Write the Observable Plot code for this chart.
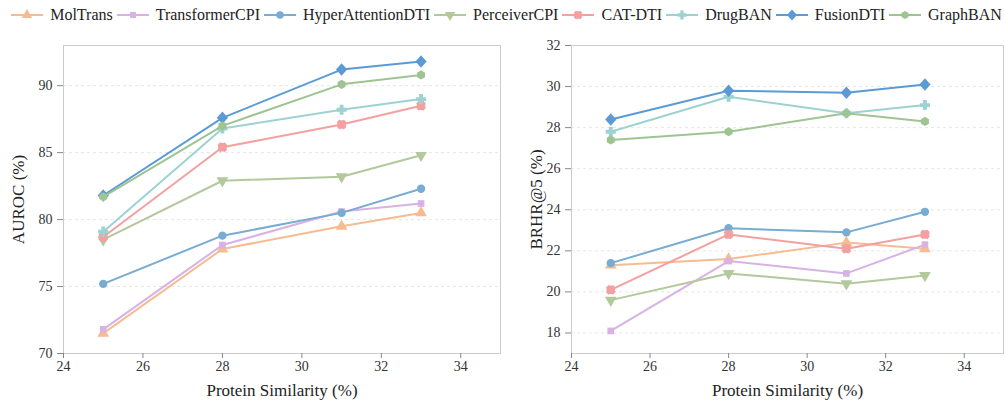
<!DOCTYPE html>
<html>
<head>
<meta charset="utf-8">
<script src="https://cdn.jsdelivr.net/npm/d3@7"></script>
<script src="https://cdn.jsdelivr.net/npm/@observablehq/plot@0.6"></script>
<style>
  body { margin: 0; background: #fff; font-family: "Liberation Serif", "Times New Roman", Times, "DejaVu Serif", serif; }
  #wrap { width: 1005px; height: 404px; position: relative; overflow: hidden; }
  #legend { height: 30px; display: flex; justify-content: center; align-items: center; font-size: 16px; color: #222; padding-left: 12px; box-sizing: border-box; white-space: nowrap; }
  .item { display: flex; align-items: center; margin-right: 4px; white-space: nowrap; flex: none; }
  .item svg { margin-right: 7px; }
  #plots { display: flex; }
</style>
</head>
<body>
<div id="wrap">
  <div id="legend"></div>
  <div id="plots"></div>
</div>
<script>
// ---- data ----
const similarity = [25, 28, 31, 33];
const methods = ["MolTrans", "TransformerCPI", "HyperAttentionDTI", "PerceiverCPI", "CAT-DTI", "DrugBAN", "FusionDTI", "GraphBAN"];
const colors = ["#f7bb92", "#d8b2e4", "#78acd3", "#b2c99b", "#f2a0a0", "#9dd2d2", "#5b9bd5", "#9ec492"];

const aurocMolTrans = [71.5, 77.8, 79.5, 80.5];
const aurocTransformerCPI = [71.8, 78.1, 80.6, 81.2];
const aurocHyperAttentionDTI = [75.2, 78.8, 80.5, 82.3];
const aurocPerceiverCPI = [78.5, 82.9, 83.2, 84.8];
const aurocCATDTI = [78.7, 85.4, 87.1, 88.5];
const aurocDrugBAN = [79.1, 86.8, 88.2, 89.0];
const aurocFusionDTI = [81.8, 87.6, 91.2, 91.8];
const aurocGraphBAN = [81.7, 87.0, 90.1, 90.8];

const brhrMolTrans = [21.3, 21.6, 22.4, 22.1];
const brhrTransformerCPI = [18.1, 21.5, 20.9, 22.3];
const brhrHyperAttentionDTI = [21.4, 23.1, 22.9, 23.9];
const brhrPerceiverCPI = [19.6, 20.9, 20.4, 20.8];
const brhrCATDTI = [20.1, 22.8, 22.1, 22.8];
const brhrDrugBAN = [27.8, 29.5, 28.7, 29.1];
const brhrFusionDTI = [28.4, 29.8, 29.7, 30.1];
const brhrGraphBAN = [27.4, 27.8, 28.7, 28.3];

const xTicks = [24, 26, 28, 30, 32, 34];
const aurocTicks = [70, 75, 80, 85, 90];
const brhrTicks = [18, 20, 22, 24, 26, 28, 30, 32];

const aurocSeries = [aurocMolTrans, aurocTransformerCPI, aurocHyperAttentionDTI, aurocPerceiverCPI, aurocCATDTI, aurocDrugBAN, aurocFusionDTI, aurocGraphBAN];
const brhrSeries = [brhrMolTrans, brhrTransformerCPI, brhrHyperAttentionDTI, brhrPerceiverCPI, brhrCATDTI, brhrDrugBAN, brhrFusionDTI, brhrGraphBAN];

const FONT = '"Liberation Serif", "Times New Roman", Times, "DejaVu Serif", serif';

// ---- custom symbols ----
const sqrt3 = Math.sqrt(3);
const triUp = { draw(c, size) { const y = -Math.sqrt(size / (sqrt3 * 3)); c.moveTo(0, y * 2); c.lineTo(-sqrt3 * y, -y); c.lineTo(sqrt3 * y, -y); c.closePath(); } };
const triDown = { draw(c, size) { const y = Math.sqrt(size / (sqrt3 * 3)); c.moveTo(0, y * 2); c.lineTo(-sqrt3 * y, -y); c.lineTo(sqrt3 * y, -y); c.closePath(); } };
const square = { draw(c, size) { const w = Math.sqrt(size) * 0.9, h = w / 2; c.rect(-h, -h, w, w); } };
const circle = { draw(c, size) { const r = Math.sqrt(size / Math.PI); c.moveTo(r, 0); c.arc(0, 0, r, 0, 2 * Math.PI); } };
const diamond = { draw(c, size) { const r = Math.sqrt(size) * 0.72; c.moveTo(0, -r); c.lineTo(r * 0.9, 0); c.lineTo(0, r); c.lineTo(-r * 0.9, 0); c.closePath(); } };
const hexagon = { draw(c, size) { const r = Math.sqrt(size / 2.6); for (let i = 0; i < 6; i++) { const a = Math.PI / 6 + i * Math.PI / 3; const px = r * Math.cos(a), py = r * Math.sin(a); i ? c.lineTo(px, py) : c.moveTo(px, py); } c.closePath(); } };
const plusFilled = { draw(c, size) { const r = Math.sqrt(size) * 0.6, t = r * 0.38;
  c.moveTo(-t, -r); c.lineTo(t, -r); c.lineTo(t, -t); c.lineTo(r, -t); c.lineTo(r, t); c.lineTo(t, t); c.lineTo(t, r); c.lineTo(-t, r); c.lineTo(-t, t); c.lineTo(-r, t); c.lineTo(-r, -t); c.lineTo(-t, -t); c.closePath(); } };
const xFilled = { draw(c, size) { const r = Math.sqrt(size) * 0.6, t = r * 0.38;
  const pts = [[-t, -r], [t, -r], [t, -t], [r, -t], [r, t], [t, t], [t, r], [-t, r], [-t, t], [-r, t], [-r, -t], [-t, -t]];
  const a = Math.PI / 4, ca = Math.cos(a), sa = Math.sin(a);
  pts.forEach(([px, py], i) => { const qx = px * ca - py * sa, qy = px * sa + py * ca; i ? c.lineTo(qx, qy) : c.moveTo(qx, qy); });
  c.closePath();
  pts.forEach(([px, py], i) => { const s = 0.85; i ? c.lineTo(px * s, py * s) : c.moveTo(px * s, py * s); });
  c.closePath(); } };
const symbols = [triUp, square, circle, triDown, xFilled, plusFilled, diamond, hexagon];
const sizes = [60, 55, 55, 60, 70, 70, 75, 55];

// ---- legend ----
const legend = document.getElementById("legend");
methods.forEach((m, i) => {
  const item = document.createElement("div");
  item.className = "item";
  const s = d3.create("svg").attr("width", 32).attr("height", 12);
  s.append("line").attr("x1", 0).attr("x2", 32).attr("y1", 6).attr("y2", 6).attr("stroke", colors[i]).attr("stroke-width", 2);
  s.append("path").attr("transform", "translate(16,6)").attr("fill", colors[i]).attr("d", d3.symbol().type(symbols[i]).size(sizes[i] * 0.8)());
  item.appendChild(s.node());
  const t = document.createElement("span");
  t.textContent = m;
  item.appendChild(t);
  legend.appendChild(item);
});

// ---- charts ----
function makeChart(series, yDomain, yTicks, yLabel, opts) {
  const rows = [];
  methods.forEach((m, i) => similarity.forEach((x, j) => rows.push({ method: m, idx: i, x, y: series[i][j] })));
  const marks = [
    Plot.gridY(yTicks, { stroke: "#e6e6e6", strokeOpacity: 1, strokeDasharray: "3,3" }),
    Plot.frame({ stroke: "#cccccc" }),
    Plot.axisX(xTicks, { tickSize: 5, tickPadding: 3, stroke: "#888", fill: "#333", fontSize: 14, fontFamily: FONT, label: null }),
    Plot.axisY(yTicks, { tickSize: 6, tickPadding: 5, stroke: "#888", fill: "#333", fontSize: 14, fontFamily: FONT, label: null }),
    Plot.text(["Protein Similarity (%)"], { frameAnchor: "bottom", dy: 42, fontSize: 17, fill: "#222", fontFamily: FONT }),
    Plot.text([yLabel], { frameAnchor: "left", textAnchor: "middle", dx: opts.ylabelDx, rotate: -90, fontSize: 17, fill: "#222", fontFamily: FONT })
  ];
  methods.forEach((m, i) => {
    const d = rows.filter(r => r.method === m);
    marks.push(Plot.line(d, { x: "x", y: "y", stroke: colors[i], strokeWidth: 2 }));
    marks.push(Plot.dot(d, { x: "x", y: "y", fill: colors[i], symbol: symbols[i], r: Math.sqrt(sizes[i] / Math.PI) }));
  });
  return Plot.plot({
    width: opts.width, height: 374,
    marginTop: 15, marginBottom: 51, marginLeft: opts.marginLeft, marginRight: opts.marginRight,
    style: { fontFamily: FONT, fontSize: "14px", background: "white" },
    x: { domain: [24, 35] },
    y: { domain: yDomain },
    marks
  });
}

const plots = document.getElementById("plots");
plots.appendChild(makeChart(aurocSeries, [70, 93], aurocTicks, "AUROC (%)", { width: 505, marginLeft: 63, marginRight: 5, ylabelDx: -45 }));
plots.appendChild(makeChart(brhrSeries, [17, 32], brhrTicks, "BRHR@5 (%)", { width: 500, marginLeft: 66, marginRight: 2, ylabelDx: -35 }));
</script>
</body>
</html>
